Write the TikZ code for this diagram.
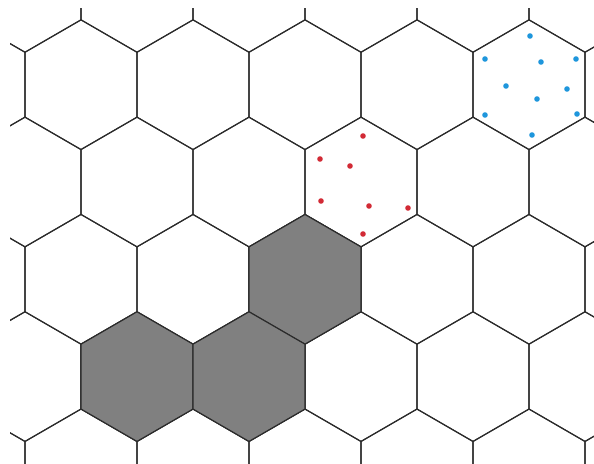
\documentclass[tikz,border=0pt]{standalone}
\definecolor{hexline}{HTML}{2B2B2B}
\definecolor{hexgray}{HTML}{808080}
\definecolor{dotblue}{HTML}{1E96DC}
\definecolor{dotred}{HTML}{D22A35}
\tikzset{
  hexcell/.style={draw=hexline, line width=1.1pt, line join=miter},
  hexfill/.style={hexcell, fill=hexgray},
  bluedot/.style={fill=dotblue, draw=none},
  reddot/.style={fill=dotred, draw=none}
}
\newcommand{\hexat}[3]{% style, cx, cy
  \path[#1] (#2+56,#3-32.4) -- (#2,#3-64.8) -- (#2-56,#3-32.4) -- (#2-56,#3+32.4) -- (#2,#3+64.8) -- (#2+56,#3+32.4) -- cycle;}
\begin{document}
\begin{tikzpicture}[x=1pt,y=-1pt]
\useasboundingbox (0,0) rectangle (594,463);
\fill[white] (0,0) rectangle (594,463);
\begin{scope}
\clip (10,8) rectangle (594,463);
% rows: y = 84.7 + 97.3*r
\foreach \r in {-1,...,4}{
  \pgfmathsetmacro{\cy}{84.7+97.3*\r}
  \pgfmathsetmacro{\off}{isodd(\r) ? 25 : 81}
  \foreach \c in {-1,...,6}{
    \pgfmathsetmacro{\cx}{\off+112*\c}
    \hexat{hexcell}{\cx}{\cy}
  }
}
% gray cells
\hexat{hexfill}{305}{279.3}
\hexat{hexfill}{137}{376.6}
\hexat{hexfill}{249}{376.6}
\end{scope}
% blue dots
\foreach \p in {(530,36),(485,59),(541,62),(576,59),(506,86),(567,89),(537,99),(485,115),(577,114),(532,135)}
  \fill[bluedot] \p circle (2.8);
% red dots
\foreach \p in {(363,136),(320,159),(350,166),(321,201),(369,206),(408,208),(363,234)}
  \fill[reddot] \p circle (2.8);
\end{tikzpicture}
\end{document}
